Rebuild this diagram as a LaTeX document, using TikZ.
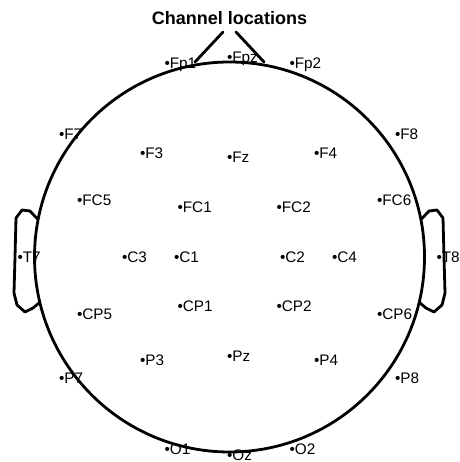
\documentclass[tikz,border=0pt]{standalone}
\usepackage{fontspec}
\setmainfont{Liberation Sans}
\usepackage{tikz}

\begin{document}
\begin{tikzpicture}[
  x=1pt, y=-1pt,
  head/.style  = {draw, line width=2.8pt, line join=round, line cap=round},
  chan/.style  = {anchor=base west, inner sep=0pt, xshift=-2.7pt, yshift=-5.8pt,
                  font=\fontsize{15.3}{17}\selectfont},
  title/.style = {anchor=base, inner sep=0pt, font=\fontsize{18}{20}\selectfont\bfseries},
]
  \useasboundingbox (0,0) rectangle (459,462);

  \node[title] (ttl) at (229.5,25) {Channel locations};

  % head, nose and ears
  \coordinate (ctr) at (229.5,257);
  \draw[head] (ctr) circle[radius=195pt];
  \draw[head] (195,62) -- (223,32);
  \draw[head] (236,32) -- (264,62);
  \draw[head] (37.5,219) -- (30,211) -- (22,210) -- (16,218) -- (15,257)
              -- (14,293) -- (17,305) -- (25,312) -- (33,308) -- (39,303);
  \draw[head] (421.5,219) -- (429,211) -- (437,210) -- (443,218) -- (444,257)
              -- (445,293) -- (442,305) -- (434,312) -- (426,308) -- (420,303);

  % channels
  \node[chan] (Fp1) at (167,62.5)    {\textbullet Fp1};
  \node[chan] (Fpz) at (229.5,57)    {\textbullet Fpz};
  \node[chan] (Fp2) at (292,62.5)    {\textbullet Fp2};

  \node[chan] (F7)  at (61.5,134)    {\textbullet F7};
  \node[chan] (F3)  at (142.5,152.5) {\textbullet F3};
  \node[chan] (Fz)  at (229.5,156.5) {\textbullet Fz};
  \node[chan] (F4)  at (316.5,152.5) {\textbullet F4};
  \node[chan] (F8)  at (397.5,134)   {\textbullet F8};

  \node[chan] (FC5) at (79.5,199.5)  {\textbullet FC5};
  \node[chan] (FC1) at (180,206.5)   {\textbullet FC1};
  \node[chan] (FC2) at (279,206.5)   {\textbullet FC2};
  \node[chan] (FC6) at (379.5,199.5) {\textbullet FC6};

  \node[chan] (T7)  at (20,256.5)    {\textbullet T7};
  \node[chan] (C3)  at (124.5,256.5) {\textbullet C3};
  \node[chan] (C1)  at (176.5,256.5) {\textbullet C1};
  \node[chan] (C2)  at (282.5,256.5) {\textbullet C2};
  \node[chan] (C4)  at (334.5,256.5) {\textbullet C4};
  \node[chan] (T8)  at (439,256.5)   {\textbullet T8};

  \node[chan] (CP5) at (79.5,314)    {\textbullet CP5};
  \node[chan] (CP1) at (180,306)     {\textbullet CP1};
  \node[chan] (CP2) at (279,306)     {\textbullet CP2};
  \node[chan] (CP6) at (379.5,314)   {\textbullet CP6};

  \node[chan] (P7)  at (61.5,378)    {\textbullet P7};
  \node[chan] (P3)  at (142.5,360)   {\textbullet P3};
  \node[chan] (Pz)  at (229.5,356)   {\textbullet Pz};
  \node[chan] (P4)  at (316.5,360)   {\textbullet P4};
  \node[chan] (P8)  at (397.5,378)   {\textbullet P8};

  \node[chan] (O1)  at (167,449)     {\textbullet O1};
  \node[chan] (Oz)  at (229.5,455)   {\textbullet Oz};
  \node[chan] (O2)  at (292,449)     {\textbullet O2};
\end{tikzpicture}
\end{document}
